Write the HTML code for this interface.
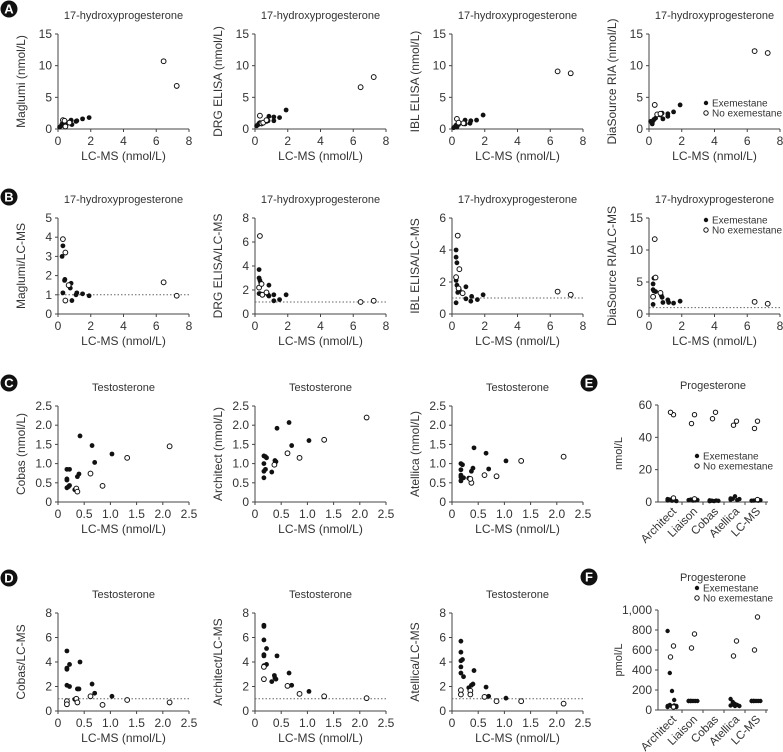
<!DOCTYPE html>
<html><head><meta charset="utf-8">
<style>
body{margin:0;background:#fff;}
svg{display:block;font-family:"Liberation Sans",sans-serif;}
text{fill:#333;}
</style></head>
<body>
<svg id="fig" width="783" height="752" viewBox="0 0 783 752"></svg>
<script>
// ---- 17-OHP data (x = LC-MS nmol/L) ----
const a1Filled=[[0.1,0.3],[0.2,0.5],[0.25,0.8],[0.3,1.0],[0.35,0.6],[0.4,1.2],[0.5,0.9],[0.7,1.1],[0.8,1.4],[0.85,0.7],[1.1,1.2],[1.15,1.3],[1.5,1.6],[1.9,1.8]];
const a1Open=[[0.3,1.4],[0.4,1.3],[0.45,0.4],[0.7,1.0],[6.45,10.7],[7.25,6.8]];
const a2Filled=[[0.1,0.5],[0.2,0.7],[0.25,0.9],[0.3,1.0],[0.4,0.8],[0.7,1.2],[0.8,1.3],[0.85,2.0],[1.15,1.3],[1.15,1.9],[1.5,1.8],[1.9,3.0]];
const a2Open=[[0.3,2.1],[0.4,0.9],[0.5,1.0],[0.7,1.4],[6.45,6.6],[7.25,8.2]];
const a3Filled=[[0.1,0.2],[0.2,0.4],[0.25,0.6],[0.3,0.3],[0.4,0.7],[0.8,0.8],[0.8,1.4],[1.1,0.9],[1.15,1.3],[1.5,1.4],[1.9,2.2]];
const a3Open=[[0.3,1.6],[0.4,1.0],[0.7,0.9],[6.45,9.1],[7.25,8.8]];
const a4Filled=[[0.1,1.2],[0.2,0.8],[0.25,1.3],[0.3,1.5],[0.4,1.7],[0.7,2.2],[0.8,2.5],[0.85,1.6],[1.15,2.4],[1.15,2.0],[1.5,2.7],[1.9,3.8]];
const a4Open=[[0.35,3.8],[0.5,2.3],[0.7,2.4],[6.45,12.3],[7.25,12.0]];
const b1Filled=[[0.25,3.0],[0.3,3.55],[0.3,1.1],[0.4,1.75],[0.42,1.8],[0.8,1.6],[0.75,1.35],[0.85,0.7],[1.1,1.0],[1.15,1.1],[1.5,1.05],[1.9,0.95]];
const b1Open=[[0.3,3.9],[0.45,3.2],[0.45,0.7],[0.65,1.5],[6.45,1.65],[7.25,0.95]];
const b2Filled=[[0.25,3.7],[0.25,3.0],[0.3,2.8],[0.3,1.7],[0.25,1.7],[0.35,2.6],[0.85,2.4],[0.8,1.6],[0.85,1.5],[1.15,1.6],[1.15,1.1],[1.5,1.2],[1.9,1.6]];
const b2Open=[[0.3,6.5],[0.25,2.2],[0.4,2.5],[0.45,1.6],[0.7,1.8],[6.45,1.0],[7.25,1.1]];
const b3Filled=[[0.25,4.0],[0.25,3.55],[0.3,3.2],[0.25,2.1],[0.3,1.8],[0.35,1.35],[0.45,1.5],[0.25,0.7],[0.85,1.7],[0.85,0.95],[1.15,0.8],[1.2,1.1],[1.55,0.9],[1.9,1.2]];
const b3Open=[[0.35,4.9],[0.45,2.8],[0.25,2.3],[0.4,1.6],[0.65,1.3],[6.45,1.4],[7.25,1.2]];
const b4Filled=[[0.25,4.7],[0.25,3.8],[0.3,5.6],[0.3,3.6],[0.4,3.5],[0.25,1.5],[0.75,2.9],[0.8,2.6],[0.85,1.8],[1.15,2.2],[1.2,1.8],[1.5,1.7],[1.9,2.0]];
const b4Open=[[0.35,11.7],[0.4,5.7],[0.25,2.7],[0.7,3.3],[6.45,1.9],[7.25,1.6]];
// ---- Testosterone ----
const c1Filled=[[0.17,0.85],[0.22,0.85],[0.17,0.6],[0.17,0.57],[0.17,0.37],[0.22,0.43],[0.2,0.4],[0.42,1.72],[0.65,1.47],[0.7,1.03],[0.37,0.66],[0.4,0.73],[0.32,0.32],[1.03,1.25]];
const c1Open=[[0.35,0.35],[0.37,0.27],[0.62,0.74],[0.85,0.42],[1.32,1.15],[2.13,1.45]];
const c2Filled=[[0.17,1.2],[0.2,1.18],[0.22,1.15],[0.17,1.0],[0.17,0.8],[0.2,0.85],[0.17,0.63],[0.42,1.92],[0.65,2.07],[0.7,1.47],[0.38,1.08],[0.4,1.05],[0.32,0.78],[1.03,1.6]];
const c2Open=[[0.37,0.97],[0.62,1.27],[0.85,1.15],[1.32,1.62],[2.13,2.2]];
const c3Filled=[[0.17,1.0],[0.2,0.97],[0.17,0.84],[0.17,0.7],[0.17,0.65],[0.17,0.55],[0.22,0.63],[0.42,1.41],[0.65,1.27],[0.7,0.86],[0.37,0.8],[0.4,0.88],[0.32,0.62],[1.03,1.07]];
const c3Open=[[0.37,0.5],[0.35,0.6],[0.62,0.7],[0.85,0.67],[1.32,1.07],[2.13,1.18]];
const d1Filled=[[0.17,4.9],[0.17,3.5],[0.17,3.4],[0.22,3.8],[0.17,2.1],[0.22,2.0],[0.42,4.0],[0.65,2.2],[0.7,1.45],[0.37,1.8],[0.4,1.8],[0.32,0.95],[1.03,1.2]];
const d1Open=[[0.17,0.8],[0.17,0.55],[0.35,1.0],[0.37,0.7],[0.62,1.2],[0.85,0.5],[1.32,0.9],[2.13,0.7]];
const d2Filled=[[0.17,7.0],[0.17,6.9],[0.17,5.8],[0.17,4.6],[0.17,4.5],[0.22,5.1],[0.17,3.7],[0.22,3.8],[0.42,4.5],[0.37,2.9],[0.38,2.7],[0.4,2.6],[0.32,2.4],[0.65,3.1],[0.7,2.1],[1.03,1.6]];
const d2Open=[[0.17,3.6],[0.17,2.6],[0.62,2.05],[0.85,1.4],[1.32,1.2],[2.13,1.05]];
const d3Filled=[[0.17,5.7],[0.17,4.8],[0.17,4.1],[0.2,4.2],[0.17,3.6],[0.17,3.1],[0.22,2.8],[0.42,3.3],[0.37,2.1],[0.4,2.2],[0.32,1.9],[0.65,1.95],[0.7,1.2],[1.03,1.05]];
const d3Open=[[0.17,1.7],[0.17,1.35],[0.35,1.65],[0.35,1.35],[0.62,1.15],[0.85,0.8],[1.32,0.8],[2.13,0.6]];
// ---- Progesterone ----
const progCategories=["Architect","Liaison","Cobas","Atellica","LC-MS"];
const eFilled=[[1,1.5,0.8,1.2,0.6,1.8],[1.2,1.5,0.9,1.0,1.3],[0.5,0.8,0.6,0.9,0.7,1.0],[1.5,2.0,3.5,1.2,1.8,2.2],[0.8,0.9,1.0,0.8,1.1]];
const eOpen=[[54,55.5,2.5],[54,48.5,2],[55.5,51.5],[50,47.5],[50,45.5,1.5]];
const fFilled=[[790,370,190,100,40,30,50,35,45,30,40],[90,90,90,90,90,90,90],[],[110,80,60,50,40,45,55,40],[90,90,90,90,90,90,90]];
const fOpen=[[640,530,30],[760,620],[],[690,540],[930,600]];
const xTicks17=[0,2,4,6,8];
const xTicksT=[0,0.5,1.0,1.5,2.0,2.5];

const NS="http://www.w3.org/2000/svg";
const svg=document.getElementById('fig');
function el(tag,attrs,parent,txt){const e=document.createElementNS(NS,tag);for(const k in attrs)e.setAttribute(k,attrs[k]);if(txt!==undefined)e.textContent=txt;(parent||svg).appendChild(e);return e;}

function badge(x,y,letter){
  const g=el('g',{});
  
  
  el('circle',{cx:x,cy:y,r:8.5,fill:'#111'},g);
  el('text',{x:x,y:y+4.5,'text-anchor':'middle','font-size':13,'font-weight':'bold',style:'fill:#fff'},g,letter);
}

function fmt(v,dec){return dec?v.toFixed(dec):String(v);}
function fmtK(v){return v>=1000?v.toLocaleString('en-US'):String(v);}

function scatter(opt){
  const g=el('g',{});
  
  
  const W=131,ox=opt.ox,top=opt.top,bot=opt.bot;
  const sx=v=>ox+(v-opt.xmin)/(opt.xmax-opt.xmin)*W;
  const sy=v=>bot-(v/opt.ymax)*(bot-top);
  const tt=el('text',{x:ox+W/2,y:top-15,'text-anchor':'middle','font-size':11},g,opt.title);
  
  el('line',{x1:ox,y1:top,x2:ox,y2:bot,stroke:'#444','stroke-width':1},g);
  el('line',{x1:ox,y1:bot,x2:ox+W,y2:bot,stroke:'#444','stroke-width':1},g);
  opt.yTicks.forEach(v=>{const y=sy(v);el('line',{x1:ox-3,y1:y,x2:ox,y2:y,stroke:'#444'},g);
    el('text',{x:ox-6,y:y+4,'text-anchor':'end','font-size':12},g,v===0?'0':fmt(v,opt.ydec));});
  opt.xTicks.forEach(v=>{const x=sx(v);el('line',{x1:x,y1:bot,x2:x,y2:bot+3,stroke:'#444'},g);
    el('text',{x:x,y:bot+16,'text-anchor':'middle','font-size':12},g,v===0?'0':fmt(v,opt.xdec));});
  const xt=el('text',{x:ox+W/2,y:bot+31,'text-anchor':'middle','font-size':12},g,'LC-MS (nmol/L)');
  
  const yc=(top+bot)/2;
  const yt=el('text',{x:ox-33,y:yc,'text-anchor':'middle','font-size':12,transform:`rotate(-90 ${ox-33} ${yc})`},g,opt.ylabel);
  
  if(opt.ref){el('line',{x1:ox,y1:sy(1),x2:ox+W,y2:sy(1),stroke:'#666','stroke-dasharray':'1.5,2','stroke-width':1},g);}
  opt.filled.forEach(p=>{const c=el('circle',{cx:sx(p[0]),cy:sy(p[1]),r:2.4,fill:'#111'},g);
    
    });
  opt.open.forEach(p=>{const c=el('circle',{cx:sx(p[0]),cy:sy(p[1]),r:2.4,fill:'#fff',stroke:'#111','stroke-width':1},g);
    
    });
  if(opt.legend){legend(opt.legend[0],opt.legend[1],g);}
}
function legend(x,y,parent){
  const g=el('g',{},parent);
  
  
  el('circle',{cx:x,cy:y,r:2.2,fill:'#111'},g);
  el('text',{x:x+6,y:y+3.5,'font-size':10},g,'Exemestane');
  el('circle',{cx:x,cy:y+10,r:2.2,fill:'#fff',stroke:'#111'},g);
  el('text',{x:x+6,y:y+13.5,'font-size':10},g,'No exemestane');
}
function strip(opt){
  const g=el('g',{});
  
  
  const ox=658,right=768,top=opt.top,bot=opt.bot;
  const sy=v=>bot-(v/opt.ymax)*(bot-top);
  const cx=i=>672+i*21;
  el('text',{x:713,y:opt.titleY,'text-anchor':'middle','font-size':11},g,'Progesterone');
  el('line',{x1:ox,y1:top,x2:ox,y2:bot,stroke:'#444'},g);
  el('line',{x1:ox,y1:bot,x2:right,y2:bot,stroke:'#444'},g);
  opt.yTicks.forEach(v=>{const y=sy(v);el('line',{x1:ox-3,y1:y,x2:ox,y2:y,stroke:'#444'},g);
    el('text',{x:ox-6,y:y+4,'text-anchor':'end','font-size':12},g,fmtK(v));});
  progCategories.forEach((c,i)=>{const x=cx(i);el('line',{x1:x+10,y1:bot,x2:x+10,y2:bot+3,stroke:'#444'},g);
    el('text',{x:x+5,y:bot+10,'text-anchor':'end','font-size':11.5,transform:`rotate(-45 ${x+5} ${bot+10})`},g,c);});
  const yc=(top+bot)/2;
  el('text',{x:ox-36,y:yc,'text-anchor':'middle','font-size':11,transform:`rotate(-90 ${ox-36} ${yc})`},g,opt.ylabel);
  opt.filled.forEach((arr,i)=>arr.forEach((v,j)=>{const c=el('circle',{cx:cx(i)+((j%5)-2)*2.2,cy:sy(v),r:2.2,fill:'#111'},g);
    
    }));
  opt.open.forEach((arr,i)=>arr.forEach((v,j)=>{const c=el('circle',{cx:cx(i)+(j%2?-1:1)*1.5,cy:sy(v),r:2.2,fill:'#fff',stroke:'#111'},g);
    
    }));
  legend(opt.legend[0],opt.legend[1],g);
}

const colsX=[58,255,452,649];
const t17='17-hydroxyprogesterone';
const rowA=[['Maglumi (nmol/L)',a1Filled,a1Open],['DRG ELISA (nmol/L)',a2Filled,a2Open],['IBL ELISA (nmol/L)',a3Filled,a3Open],['DiaSource RIA (nmol/L)',a4Filled,a4Open]];
rowA.forEach((r,i)=>scatter({name:'panel-a-'+(i+1),ox:colsX[i],top:34,bot:129,xmin:0,xmax:8,ymax:15,yTicks:[0,5,10,15],xTicks:xTicks17,title:t17,ylabel:r[0],filled:r[1],open:r[2],legend:i==3?[706,103]:null}));
const rowB=[['Maglumi/LC-MS',b1Filled,b1Open,5,[0,1,2,3,4,5]],['DRG ELISA/LC-MS',b2Filled,b2Open,8,[0,2,4,6,8]],['IBL ELISA/LC-MS',b3Filled,b3Open,6,[0,2,4,6]],['DiaSource RIA/LC-MS',b4Filled,b4Open,15,[0,5,10,15]]];
rowB.forEach((r,i)=>scatter({name:'panel-b-'+(i+1),ox:colsX[i],top:218,bot:314,xmin:0,xmax:8,ymax:r[3],yTicks:r[4],xTicks:xTicks17,title:t17,ylabel:r[0],filled:r[1],open:r[2],ref:true,legend:i==3?[706,220]:null}));
const rowC=[['Cobas (nmol/L)',c1Filled,c1Open],['Architect (nmol/L)',c2Filled,c2Open],['Atellica (nmol/L)',c3Filled,c3Open]];
rowC.forEach((r,i)=>scatter({name:'panel-c-'+(i+1),ox:colsX[i],top:406,bot:502,xmin:0,xmax:2.5,ymax:2.5,yTicks:[0,0.5,1.0,1.5,2.0,2.5],ydec:1,xTicks:xTicksT,xdec:1,title:'Testosterone',ylabel:r[0],filled:r[1],open:r[2]}));
const rowD=[['Cobas/LC-MS',d1Filled,d1Open],['Architect/LC-MS',d2Filled,d2Open],['Atellica/LC-MS',d3Filled,d3Open]];
rowD.forEach((r,i)=>scatter({name:'panel-d-'+(i+1),ox:colsX[i],top:613,bot:711,xmin:0,xmax:2.5,ymax:8,yTicks:[0,2,4,6,8],xTicks:xTicksT,xdec:1,title:'Testosterone',ylabel:r[0],filled:r[1],open:r[2],ref:true}));
strip({name:'panel-e',top:405,bot:502,titleY:389,ymax:60,yTicks:[0,20,40,60],ylabel:'nmol/L',filled:eFilled,open:eOpen,legend:[697,456]});
strip({name:'panel-f',top:610,bot:710,titleY:581,ymax:1000,yTicks:[0,200,400,600,800,1000],ylabel:'pmol/L',filled:fFilled,open:fOpen,legend:[697,588]});
badge(9,9,'A');badge(9,197,'B');badge(9,383,'C');badge(9,578,'D');badge(589,383,'E');badge(589,577,'F');
</script>
</body></html>
